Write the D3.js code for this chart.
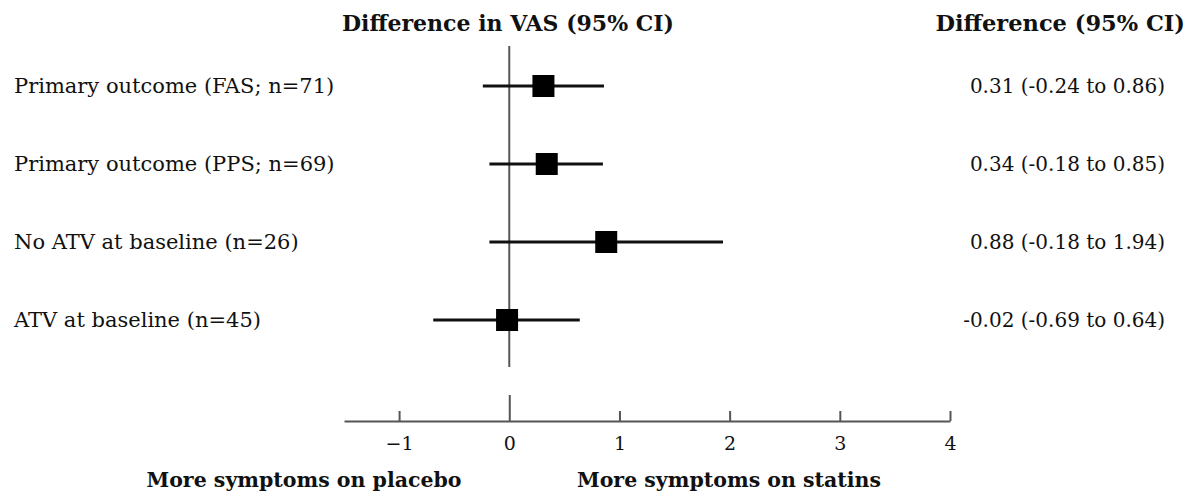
<!DOCTYPE html>
<html>
<head>
<meta charset="utf-8">
<script src="https://cdn.jsdelivr.net/npm/d3@7/dist/d3.min.js"></script>
<style>
  body { margin: 0; background: #fff; }
  svg text { font-family: "DejaVu Serif", serif; fill: #111; }
</style>
</head>
<body>
<svg id="chart" width="1189" height="495"></svg>
<script>
// rows of the forest plot
var labels = ["Primary outcome (FAS; n=71)", "Primary outcome (PPS; n=69)", "No ATV at baseline (n=26)", "ATV at baseline (n=45)"];
var estimates = [0.31, 0.34, 0.88, -0.02];
var lower = [-0.24, -0.18, -0.18, -0.69];
var upper = [0.86, 0.85, 1.94, 0.64];
var tickValues = [-1, 0, 1, 2, 3, 4];

var svg = d3.select("#chart");

var rows = labels.map(function(l, i) {
    return {label: l, est: estimates[i], lo: lower[i], hi: upper[i]};
});

var x = d3.scaleLinear()
    .domain([-1.5, 4])
    .range([344, 950]);

var y = d3.scaleLinear()
    .domain([0, rows.length - 1])
    .range([86, 320]);

var fmt = function(v) { return v.toFixed(2); };

// headers
svg.append("text")
    .attr("x", 508).attr("y", 31)
    .attr("text-anchor", "middle")
    .style("font-weight", "bold").style("font-size", "22px")
    .text("Difference in VAS (95% CI)");
svg.append("text")
    .attr("x", 1185).attr("y", 31)
    .attr("text-anchor", "end")
    .style("font-weight", "bold").style("font-size", "22.5px")
    .text("Difference (95% CI)");

// line of no effect
svg.append("line")
    .attr("x1", x(0)).attr("x2", x(0))
    .attr("y1", 46).attr("y2", 367)
    .attr("stroke", "#555").attr("stroke-width", 2);

// axis
var xAxis = d3.axisBottom(x)
    .tickValues(tickValues)
    .tickFormat(d3.format("d"))
    .tickSizeInner(-10)
    .tickSizeOuter(0)
    .tickPadding(16);

var axisG = svg.append("g")
    .attr("class", "x axis")
    .attr("transform", "translate(0,421)")
    .call(xAxis);
axisG.select(".domain").attr("stroke", "#555").attr("stroke-width", 2);
axisG.selectAll(".tick line").attr("stroke", "#555").attr("stroke-width", 2)
    .attr("y2", function(d) { return d === 0 ? -26 : -10; });
axisG.selectAll(".tick text")
    .style("font-family", "DejaVu Serif, serif")
    .style("font-size", "19px")
    .attr("fill", "#111");

svg.append("text")
    .attr("x", 304).attr("y", 487)
    .attr("text-anchor", "middle")
    .style("font-weight", "bold").style("font-size", "20.5px")
    .text("More symptoms on placebo");
svg.append("text")
    .attr("x", 729).attr("y", 487)
    .attr("text-anchor", "middle")
    .style("font-weight", "bold").style("font-size", "20.5px")
    .text("More symptoms on statins");

// row labels
svg.selectAll(".rowlabel")
    .data(rows)
  .enter().append("text")
    .attr("class", "rowlabel")
    .attr("x", 14)
    .attr("y", function(d, i) { return y(i) + 7; })
    .style("font-size", "21px")
    .text(function(d) { return d.label; });

// CI lines
svg.selectAll(".ci")
    .data(rows)
  .enter().append("line")
    .attr("class", "ci")
    .attr("x1", function(d) { return x(d.lo); })
    .attr("x2", function(d) { return x(d.hi); })
    .attr("y1", function(d, i) { return y(i); })
    .attr("y2", function(d, i) { return y(i); })
    .attr("stroke", "#111").attr("stroke-width", 3);

// point estimates
var box = 22;
svg.selectAll(".est")
    .data(rows)
  .enter().append("rect")
    .attr("class", "est")
    .attr("x", function(d) { return x(d.est) - box / 2; })
    .attr("y", function(d, i) { return y(i) - box / 2; })
    .attr("width", box).attr("height", box)
    .attr("fill", "#000");

// values on the right
svg.selectAll(".val")
    .data(rows)
  .enter().append("text")
    .attr("class", "val")
    .attr("x", 1165)
    .attr("y", function(d, i) { return y(i) + 7; })
    .attr("text-anchor", "end")
    .style("font-size", "20px")
    .text(function(d) { return fmt(d.est) + " (" + fmt(d.lo) + " to " + fmt(d.hi) + ")"; });
</script>
</body>
</html>
